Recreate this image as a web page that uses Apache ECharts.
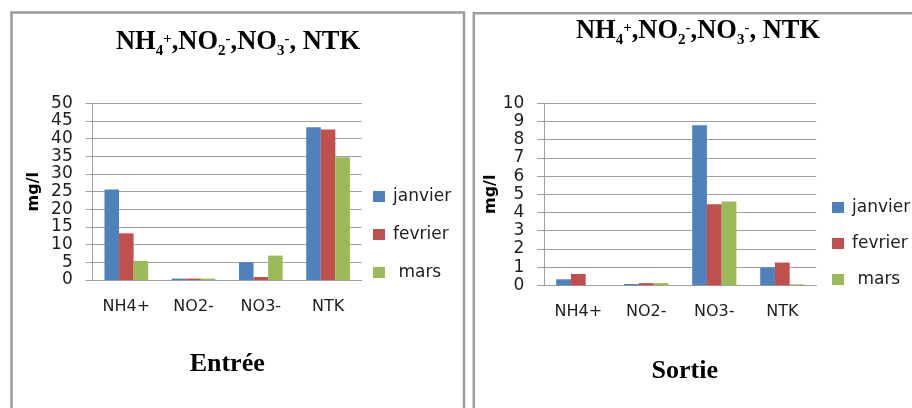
<!DOCTYPE html>
<html><head><meta charset="utf-8">
<script src="https://cdn.jsdelivr.net/npm/echarts@6/dist/echarts.min.js"></script>
<style>html,body{margin:0;padding:0;background:#fff}#c{width:912px;height:408px}</style>
</head><body><div id="c"></div>
<script>
const categories = ['NH4+', 'NO2-', 'NO3-', 'NTK'];
const seriesNames = ['janvier', 'fevrier', ' mars'];
const seriesColors = ['#4F81BD', '#C0504D', '#9BBB59'];

const entreeJanvier = [25.6, 0.4, 5.0, 43.2];
const entreeFevrier = [13.2, 0.4, 0.85, 42.6];
const entreeMars    = [5.4, 0.4, 6.9, 34.7];

const sortieJanvier = [0.33, 0.07, 8.8, 0.98];
const sortieFevrier = [0.62, 0.12, 4.45, 1.25];
const sortieMars    = [0.0, 0.12, 4.6, 0.05];

const entreeTicks = [0, 5, 10, 15, 20, 25, 30, 35, 40, 45, 50];
const sortieTicks = [0, 1, 2, 3, 4, 5, 6, 7, 8, 9, 10];

const titleText = '{m|NH}{sub|4}{sup|+}{m|,NO}{sub|2}{sup|-}{m|,NO}{sub|3}{sup|-}{m|, NTK}';
const yName = 'mg/l';
const xNames = ['Entrée', 'Sortie'];

const serif = 'Liberation Serif, Times New Roman, serif';
const sans = 'DejaVu Sans, Verdana, sans-serif';
const gridColor = '#a0a0a0';
const textColor = '#1e1e1e';

const rich = {
  m:   { fontFamily: serif, fontWeight: 'bold', fontSize: 26.5, lineHeight: 34, color: '#000' },
  sub: { fontFamily: serif, fontWeight: 'bold', fontSize: 15, lineHeight: 16, verticalAlign: 'bottom', color: '#000' },
  sup: { fontFamily: serif, fontWeight: 'bold', fontSize: 15, height: 28, lineHeight: 28, verticalAlign: 'top', color: '#000' }
};

function makeY(idx, ticks, gap) {
  return {
    type: 'value', gridIndex: idx,
    min: ticks[0], max: ticks[ticks.length - 1], interval: ticks[1] - ticks[0],
    name: yName, nameLocation: 'middle', nameRotate: 90, nameGap: gap,
    nameTextStyle: { fontFamily: sans, fontWeight: 'bold', fontSize: 16, color: '#000' },
    axisLine: { show: true, lineStyle: { color: gridColor, width: 1 } },
    axisTick: { show: true, length: 7, lineStyle: { color: gridColor } },
    splitLine: { show: true, lineStyle: { color: gridColor, width: 1 } },
    axisLabel: { fontFamily: sans, fontSize: 17, color: textColor, margin: 20 }
  };
}
function makeX(idx, name, gap, shift) {
  return {
    type: 'category', gridIndex: idx, data: categories,
    name: name, nameLocation: 'middle', nameGap: gap,
    nameTextStyle: { fontFamily: serif, fontWeight: 'bold', fontSize: 26, color: '#000', padding: [0, 0, 0, shift] },
    axisLine: { show: true, lineStyle: { color: gridColor, width: 1 } },
    axisTick: { show: false },
    axisLabel: { fontFamily: sans, fontSize: 16, color: textColor, margin: 19 }
  };
}
function bar(name, data, color, idx) {
  return {
    type: 'bar', name: name, data: data, xAxisIndex: idx, yAxisIndex: idx,
    barGap: '0%', barCategoryGap: '35%',
    itemStyle: { color: color },
    emphasis: { disabled: true }
  };
}
function legend(left, top, gap) {
  return {
    orient: 'vertical', left: left, top: top, padding: 0,
    itemWidth: 12, itemHeight: 11, itemGap: gap, icon: 'rect',
    data: seriesNames,
    textStyle: { fontFamily: sans, fontSize: 17, color: textColor, padding: [0, 0, 0, 3] }
  };
}

const chart = echarts.init(document.getElementById('c'), null, { renderer: 'canvas' });
chart.setOption({
  animation: false,
  backgroundColor: '#fff',
  title: [
    { text: titleText, left: 238, top: 25, padding: 0, textAlign: 'center', textStyle: { rich: rich } },
    { text: titleText, left: 698, top: 14, padding: 0, textAlign: 'center', textStyle: { rich: rich } }
  ],
  legend: [legend(373, 188, 21), legend(832, 199, 19)],
  grid: [
    { left: 92.7, top: 103.3, width: 269, height: 176.7, containLabel: false },
    { left: 544.3, top: 103.3, width: 272, height: 182, containLabel: false }
  ],
  xAxis: [makeX(0, xNames[0], 71, 0), makeX(1, xNames[1], 73, 9)],
  yAxis: [makeY(0, entreeTicks, 51), makeY(1, sortieTicks, 41)],
  series: [
    bar(seriesNames[0], entreeJanvier, seriesColors[0], 0),
    bar(seriesNames[1], entreeFevrier, seriesColors[1], 0),
    bar(seriesNames[2], entreeMars, seriesColors[2], 0),
    bar(seriesNames[0], sortieJanvier, seriesColors[0], 1),
    bar(seriesNames[1], sortieFevrier, seriesColors[1], 1),
    bar(seriesNames[2], sortieMars, seriesColors[2], 1)
  ],
  graphic: [
    { type: 'rect', silent: true, z: -10, shape: { x: 11.5, y: 12.5, width: 452.5, height: 420 },
      style: { fill: 'none', stroke: '#9c9c9c', lineWidth: 2.5 } },
    { type: 'rect', silent: true, z: -10, shape: { x: 473.8, y: 13.3, width: 460, height: 420 },
      style: { fill: 'none', stroke: '#9c9c9c', lineWidth: 2.5 } }
  ]
});
</script>
</body></html>
